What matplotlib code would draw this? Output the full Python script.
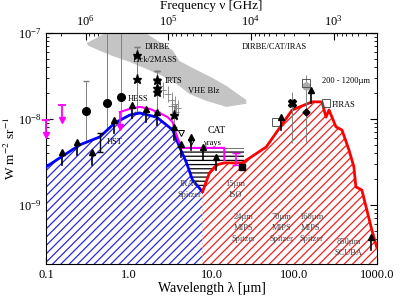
import numpy as np
import matplotlib
matplotlib.use("Agg")
import matplotlib.pyplot as plt
import matplotlib.ticker as mtick

plt.rcParams['font.family'] = ['Liberation Serif', 'DejaVu Serif']
plt.rcParams['mathtext.fontset'] = 'stix'
plt.rcParams['hatch.linewidth'] = 0.9

# wavelength in micron, nuI_nu in W m^-2 sr^-1
cob_lam = [0.1, 0.257, 0.448, 0.68, 1.03, 1.36, 2.17, 3.39, 4.11, 5.0, 5.9, 7.8]
cob_nuI = [2.77e-9, 5.0e-9, 6.18e-9, 9.0e-9, 1.11e-8, 1.17e-8, 1.05e-8, 7.45e-9,
           4.72e-9, 3.08e-9, 1.95e-9, 1.42e-9]
cib_lam = [7.8, 9.46, 11.5, 14.3, 23.6, 46, 94.6, 165, 217, 243, 264, 321, 379,
           460, 528, 558, 659, 871, 1000]
cib_nuI = [1.42e-9, 2.35e-9, 2.92e-9, 3.08e-9, 3.08e-9, 4.72e-9, 1.27e-8, 1.58e-8,
           1.58e-8, 1.05e-8, 1.27e-8, 8.07e-9, 7.45e-9, 4.36e-9, 2.77e-9, 1.62e-9,
           1.49e-9, 5.1e-10, 3.2e-10]

# VHE blazar band
band_lam = [0.312, 0.448, 0.641, 1.36, 3.39, 4.11, 5.9, 10.3, 15.2, 26.4,
            26.4, 15.2, 8.7, 5.43, 3.79, 2.57, 1.65, 1.03, 0.64, 0.448, 0.32]
band_nuI = [7.65e-8, 9.2e-8, 1.1e-7, 1.1e-7, 6.3e-8, 4.72e-8, 3.92e-8, 3.0e-8, 2.42e-8, 1.66e-8,
            1.5e-8, 1.38e-8, 1.62e-8, 1.95e-8, 2.55e-8, 3.15e-8, 3.8e-8, 4.6e-8, 5.4e-8,
            6.2e-8, 7.15e-8]

# HESS / CAT upper limit curve
hess_lam = [0.78, 1.03, 1.36, 1.79, 2.37, 2.95, 3.39, 3.67, 4.2, 4.45, 14.3, 14.3]
hess_nuI = [1.2e-8, 1.31e-8, 1.38e-8, 1.31e-8, 1.17e-8, 1.05e-8, 9.2e-9, 7.06e-9,
            4.99e-9, 4.6e-9, 4.6e-9, 3.33e-9]

# lower limits (galaxy counts)
ll_lam = [0.156, 0.236, 0.358, 0.66, 1.08, 1.6, 2.17, 3.49, 4.3, 5.7, 7.8, 11.5, 69.7, 160, 847]
ll_nuI = [2.9e-9, 3.8e-9, 2.9e-9, 6.9e-9, 1.03e-8, 9.2e-9, 8.5e-9, 5.7e-9, 3.6e-9,
          4.35e-9, 3.33e-9, 2.56e-9, 7.4e-9, 1.53e-8, 3.0e-10]

# upper limits (magenta)
ul_lam = [0.1, 0.156, 0.78]
ul_nuI = [9.7e-9, 1.45e-8, 1.2e-8]

circ_lam = [0.303, 0.544, 0.801]
circ_nuI = [1.24e-8, 1.54e-8, 1.8e-8]
circ_lo = [3e-9, 3e-9, 3e-9]
circ_hi = [2.77e-8, 2e-7, 2e-7]

star_lam = [1.25, 1.25, 2.17, 2.17, 2.17, 3.49]
star_nuI = [5.55e-8, 2.92e-8, 2.84e-8, 2.29e-8, 2.06e-8, 1.11e-8]
star_lo = [1.2e-8, 1.2e-8, 1.2e-8, 1.2e-8, 1.2e-8, 8e-9]
star_hi = [6.9e-8, 6.9e-8, 3.6e-8, 3.6e-8, 3.6e-8, 1.4e-8]

irts_lam = [2.17, 2.37, 2.57, 2.95, 3.3, 3.58, 3.9, 3.3, 3.7]
irts_nuI = [3.0e-8, 2.42e-8, 2.17e-8, 1.95e-8, 1.66e-8, 1.49e-8, 1.34e-8, 1.42e-8, 1.2e-8]

dtri_lam = [4.34, 5.7]
dtri_nuI = [6.9e-9, 5.4e-9]

sq_lam = [60.7, 140, 243]
sq_nuI = [9.2e-9, 2.63e-8, 1.53e-8]

hst_lam, hst_nuI, hst_lo, hst_hi = 0.448, 5.4e-9, 4.13e-9, 6.87e-9
iso_lam, iso_nuI, iso_lo, iso_hi = 20.0, 3.45e-9, 2.92e-9, 4.0e-9
mips_lam, mips_nuI = 94.6, 1.53e-8
mips_lo, mips_hi = 5.3e-9, 2.06e-8
dia_lam, dia_nuI = 140, 1.2e-8
dia_lo, dia_hi = 5.4e-9, 3.25e-8
sq24_lam, sq24_nuI = 23.6, 2.77e-9

x_ticks = [0.1, 1.0, 10.0, 100.0, 1000.0]
y_ticks = [1e-9, 1e-8, 1e-7]
nu_ticks = [1e3, 1e4, 1e5, 1e6]


def lam2nu(x):
    x = np.asarray(x, float)
    with np.errstate(divide='ignore'):
        return 3e5 / x


def minor_locs(lo, hi):
    out = []
    for e in range(-12, 8):
        for m in range(2, 10):
            v = m * 10.0 ** e
            if lo < v < hi:
                out.append(v)
    return out


fig = plt.figure(figsize=(4.15, 2.97), dpi=100)
ax = fig.add_axes([0.111, 0.111, 0.797, 0.778])
ax.set_xscale('log')
ax.set_yscale('log')
ax.set_xlim(0.1, 1000)
ax.set_ylim(2.05e-10, 1e-7)

ax.fill(band_lam, band_nuI, color='#c4c4c4', lw=0, zorder=1)
ax.fill_between([4.3, 25], 4.6e-9, 1e-11, facecolor='none', edgecolor='black',
                hatch='----', lw=0, zorder=1)

# error bars partly hidden behind the filled areas
ax.errorbar(circ_lam, circ_nuI, yerr=[np.array(circ_nuI) - circ_lo, np.array(circ_hi) - circ_nuI],
            fmt='none', ecolor='gray', elinewidth=0.7, capsize=2, zorder=1.5)
ax.errorbar(star_lam, star_nuI, yerr=[np.array(star_nuI) - star_lo, np.array(star_hi) - star_nuI],
            fmt='none', ecolor='gray', elinewidth=0.7, capsize=2, zorder=1.5)
ax.errorbar(irts_lam, irts_nuI, xerr=[np.array(irts_lam) * 0.1, np.array(irts_lam) * 0.1],
            yerr=[np.array(irts_nuI) * 0.2, np.array(irts_nuI) * 0.25],
            fmt='none', ecolor='gray', elinewidth=0.6, zorder=1.5)

ax.fill_between(cob_lam, cob_nuI, 1e-11, facecolor='white', edgecolor='#2a2ae0',
                hatch='////', lw=0, zorder=2)
ax.fill_between(cib_lam, cib_nuI, 1e-11, facecolor='white', edgecolor='#f02020',
                hatch='////', lw=0, zorder=2)
ax.plot(cob_lam, cob_nuI, color='blue', lw=2, zorder=3)
ax.plot(cib_lam, cib_nuI, color='red', lw=2, zorder=3)

ax.plot(hess_lam, hess_nuI, color='magenta', lw=1.5, zorder=3.5)
ax.errorbar([iso_lam], [iso_nuI], yerr=[[iso_nuI - iso_lo], [iso_hi - iso_nuI]], fmt='none',
            ecolor='magenta', elinewidth=1.2, capsize=3, zorder=3.5)
for lam, top in zip(ul_lam, ul_nuI):
    ax.plot([lam, lam], [top, top / 1.45], color='magenta', lw=1.3, zorder=4, clip_on=False)
    ax.plot(lam, top / 1.5, marker='v', color='magenta', ms=4.5, zorder=4, clip_on=False)
ax.plot(ul_lam[:2], ul_nuI[:2], ls='none', marker='_', color='magenta', ms=6, mew=1.3,
        zorder=4, clip_on=False)

ax.errorbar([mips_lam, dia_lam], [mips_nuI, dia_nuI],
            yerr=[[mips_nuI - mips_lo, dia_nuI - dia_lo], [mips_hi - mips_nuI, dia_hi - dia_nuI]],
            fmt='none', ecolor='gray', elinewidth=0.7, zorder=3.5)
ax.plot(circ_lam, circ_nuI, 'o', color='black', ms=5.5, zorder=5)
ax.plot(star_lam, star_nuI, '*', color='black', ms=6.5, zorder=5)
ax.plot(dtri_lam, dtri_nuI, 'v', mfc='white', mec='black', ms=5, mew=0.7, zorder=5)
ax.plot(dia_lam, dia_nuI * 2.0, 'o', color='#aaaaaa', ms=5, zorder=4.5)
ax.plot(sq_lam, sq_nuI, 's', mfc='none', mec='#555555', ms=5.5, mew=0.7, zorder=5)
ax.plot(mips_lam, mips_nuI, 'X', color='black', ms=5.5, zorder=5)
ax.plot(dia_lam, dia_nuI, 'D', color='black', ms=3.5, zorder=5)
ax.plot(sq24_lam, sq24_nuI, 's', color='black', ms=5, zorder=5)
ax.errorbar([hst_lam], [hst_nuI], yerr=[[hst_nuI - hst_lo], [hst_hi - hst_nuI]], fmt='none',
            ecolor='black', elinewidth=1, capsize=2, zorder=5)

for lam, base in zip(ll_lam, ll_nuI):
    ax.plot([lam, lam], [base, base * 1.35], color='black', lw=1.2, zorder=5)
    ax.plot(lam, base * 1.42, marker='^', color='black', ms=4.5, zorder=5)

tk = dict(fontsize=6, zorder=6)
ax.text(1.56, 6.9e-8, 'DIRBE', va='center', **tk)
ax.text(1.12, 4.85e-8, 'Lick/2MASS', va='center', **tk)
ax.text(2.7, 2.77e-8, 'IRTS', va='center', **tk)
ax.text(5.17, 2.1e-8, 'VHE Blz', va='center', **tk)
ax.text(0.97, 1.7e-8, 'HESS', va='center', **tk)
ax.text(0.54, 5.4e-9, 'HST', va='center', **tk)
ax.text(23, 6.9e-8, 'DIRBE/CAT/IRAS', va='center', **tk)
ax.text(217, 2.77e-8, '200 - 1200µm', va='center', **tk)
ax.text(284, 1.45e-8, 'FIRAS', va='center', **tk)
ax.text(8.95, 7.4e-9, 'CAT', va='center', fontsize=7, zorder=6)
ax.text(8.2, 5.2e-9, 'γrays', va='center', **tk)
gk = dict(fontsize=6, zorder=6, color='#444444', ha='center', va='center', linespacing=1.5)
ax.text(5.4, 1.5e-9, 'IRAC\nSpitzer', **gk)
ax.text(19.5, 1.5e-9, '15µm\nISO', **gk)
ax.text(24.3, 5.4e-10, '24µm\nMIPS\nSpitzer', **gk)
ax.text(69.7, 5.4e-10, '70µm\nMIPS\nSpitzer', **gk)
ax.text(160, 5.4e-10, '160µm\nMIPS\nSpitzer', **gk)
ax.text(460, 3.15e-10, '850µm\nSCUBA', **gk)

ax.xaxis.set_major_locator(mtick.FixedLocator(x_ticks))
ax.xaxis.set_minor_locator(mtick.FixedLocator(minor_locs(0.1, 1000)))
ax.yaxis.set_major_locator(mtick.FixedLocator(y_ticks))
ax.yaxis.set_minor_locator(mtick.FixedLocator(minor_locs(2.05e-10, 1e-7)))
ax.tick_params(which='both', direction='in', right=True, top=False, labelsize=9)
ax.tick_params(which='major', length=5)
ax.tick_params(which='minor', length=2.5)
ax.xaxis.set_major_formatter(mtick.FuncFormatter(lambda v, p: '%.1f' % v))
ax.xaxis.set_minor_formatter(mtick.NullFormatter())
ax.yaxis.set_major_formatter(mtick.LogFormatterSciNotation())
ax.yaxis.set_minor_formatter(mtick.NullFormatter())
ax.set_xlabel('Wavelength λ [µm]', fontsize=10, labelpad=1)
ax.set_ylabel('W m$^{-2}$ sr$^{-1}$', fontsize=9.5, labelpad=0)

secax = ax.secondary_xaxis('top', functions=(lam2nu, lam2nu))
secax.xaxis.set_major_locator(mtick.FixedLocator(nu_ticks))
secax.xaxis.set_minor_locator(mtick.FixedLocator(minor_locs(300, 3e6)))
secax.xaxis.set_major_formatter(mtick.LogFormatterSciNotation())
secax.xaxis.set_minor_formatter(mtick.NullFormatter())
secax.tick_params(which='both', direction='in', labelsize=9)
secax.tick_params(which='major', length=5)
secax.tick_params(which='minor', length=2.5)
secax.set_xlabel('Frequency ν [GHz]', fontsize=9.5, labelpad=3)

plt.savefig('out.png', dpi=100)
